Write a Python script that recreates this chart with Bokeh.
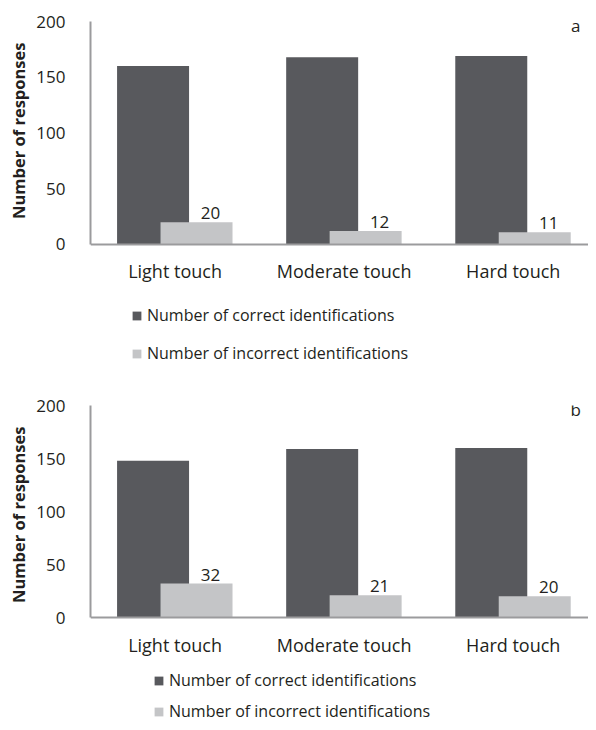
from bokeh.plotting import figure
from bokeh.models import (Range1d, FixedTicker, ColumnDataSource, LabelSet, Label,
                          Legend, LegendItem, Title)
from bokeh.core.properties import value
from bokeh.layouts import column
from bokeh.embed import file_html
from bokeh.resources import INLINE

categories = ["Light touch", "Moderate touch", "Hard touch"]
correct_a = [160, 168, 169]
incorrect_a = [20, 12, 11]
correct_b = [148, 159, 160]
incorrect_b = [32, 21, 20]
y_ticks = [0, 50, 100, 150, 200]
series_names = ["Number of correct identifications", "Number of incorrect identifications"]
y_title = "Number of responses"

FONT = "Open Sans"
TXT = "#231f20"
DARK = "#58595d"
LIGHT = "#c4c5c7"
AXIS = "#9b9b9d"
W = 588


def make_panel(correct, incorrect, letter, height, top, y_start, legend_loc, spacing):
    centers = [i + 0.5 for i in range(len(categories))]
    p = figure(width=W, height=height, output_backend="svg", toolbar_location=None,
               x_range=Range1d(0, 2.945), y_range=Range1d(y_start, 200),
               min_border_left=83, min_border_right=0, min_border_top=top,
               min_border_bottom=0, sizing_mode="fixed")
    p.outline_line_color = None
    p.xgrid.visible = False
    p.ygrid.visible = False

    src = ColumnDataSource(dict(
        xc=[c - 0.13 for c in centers],
        xi=[c + 0.127 for c in centers],
        correct=correct, incorrect=incorrect,
        lab=[str(v) for v in incorrect],
    ))
    r1 = p.vbar(x="xc", top="correct", width=0.4257, bottom=0, source=src,
                fill_color=DARK, line_color=None)
    r2 = p.vbar(x="xi", top="incorrect", width=0.4257, bottom=0, source=src,
                fill_color=LIGHT, line_color=None)

    labels = LabelSet(x="xi", y="incorrect", text="lab", source=src,
                      x_offset=14, y_offset=3, text_align="center",
                      text_baseline="alphabetic", text_font=value(FONT),
                      text_font_size=value("17px"), text_color=TXT)
    p.add_layout(labels)

    p.add_layout(Label(x=2.87, y=196, text=letter, text_align="center",
                       text_baseline="middle", text_font=FONT,
                       text_font_size="17px", text_color=TXT))

    # x axis pinned at y = 0
    p.xaxis.fixed_location = 0
    p.xaxis.ticker = FixedTicker(ticks=centers)
    p.xaxis.major_label_overrides = {c: n for c, n in zip(centers, categories)}
    p.xaxis.major_tick_line_color = None
    p.xaxis.minor_tick_line_color = None
    p.xaxis.axis_line_color = AXIS
    p.xaxis.axis_line_width = 2
    p.xaxis.major_label_standoff = 9
    p.xaxis.major_label_text_font = FONT
    p.xaxis.major_label_text_font_size = "18px"
    p.xaxis.major_label_text_color = TXT

    p.yaxis.bounds = (0, 200)
    p.yaxis.ticker = FixedTicker(ticks=y_ticks)
    p.yaxis.major_tick_line_color = None
    p.yaxis.minor_tick_line_color = None
    p.yaxis.axis_line_color = AXIS
    p.yaxis.axis_line_width = 2
    p.yaxis.major_label_standoff = 19
    p.yaxis.major_label_text_font = FONT
    p.yaxis.major_label_text_font_size = "17px"
    p.yaxis.major_label_text_color = TXT

    # y-axis title, aligned to the top of the value axis
    p.add_layout(Title(text=y_title, align="right", offset=21,
                       standoff=8, text_font=FONT, text_font_size="16.5px",
                       text_font_style="bold", text_color=TXT), "left")

    legend = Legend(items=[LegendItem(label=series_names[0], renderers=[r1]),
                           LegendItem(label=series_names[1], renderers=[r2])],
                    location=legend_loc, orientation="vertical",
                    glyph_width=11, glyph_height=11, label_standoff=5,
                    label_height=22, spacing=spacing, padding=0, margin=0,
                    border_line_color=None, background_fill_alpha=0,
                    label_text_font=FONT, label_text_font_size="16px",
                    label_text_color=TXT)
    p.add_layout(legend)
    return p


p1 = make_panel(correct_a, incorrect_a, "a", 380, 21, -122, (41, 16), 16)
p2 = make_panel(correct_b, incorrect_b, "b", 342, 25, -99, (63, 0), 9)

layout = column(p1, p2, spacing=0, width=W, height=722, sizing_mode="fixed")
open("out.html", "w").write(file_html(layout, INLINE))
